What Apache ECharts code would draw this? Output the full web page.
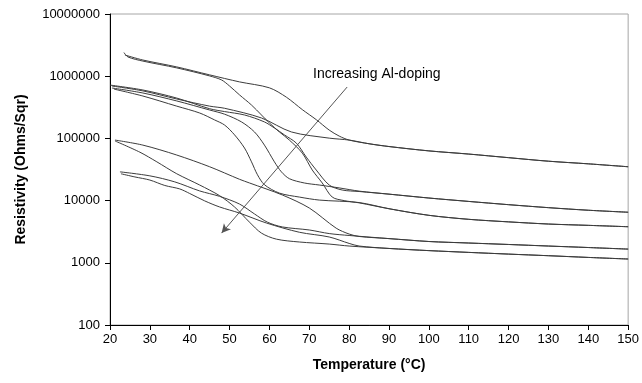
<!DOCTYPE html>
<html>
<head>
<meta charset="utf-8">
<script src="https://cdn.jsdelivr.net/npm/echarts@6/dist/echarts.min.js"></script>
<style>
  html, body { margin: 0; padding: 0; background: #fff; }
  #chart { width: 642px; height: 383px; }
</style>
</head>
<body>
<div id="chart"></div>
<script>
// Resistivity vs temperature, five films (heating + cooling branch each)
// points are [temperature °C, resistivity Ohms/Sqr]

const xTicks = [20, 30, 40, 50, 60, 70, 80, 90, 100, 110, 120, 130, 140, 150];
const yTicks = [100, 1000, 10000, 100000, 1000000, 10000000];

// shared high-temperature tails
const tail1 = [[85, 8.2e4], [90, 7.4e4], [100, 6.3e4], [110, 5.6e4], [120, 4.9e4], [130, 4.3e4], [140, 3.9e4], [150, 3.5e4]];
const tail2 = [[90, 1.27e4], [100, 1.1e4], [110, 9.7e3], [120, 8.6e3], [130, 7.7e3], [140, 7.0e3], [150, 6.5e3]];
const tail3 = [[90, 7.4e3], [100, 5.8e3], [110, 5.0e3], [120, 4.55e3], [130, 4.2e3], [140, 4.0e3], [150, 3.8e3]];
const tail4 = [[90, 2.45e3], [100, 2.2e3], [110, 2.08e3], [120, 1.97e3], [130, 1.86e3], [140, 1.76e3], [150, 1.66e3]];
const tail5 = [[90, 1.7e3], [100, 1.57e3], [110, 1.47e3], [120, 1.38e3], [130, 1.3e3], [140, 1.22e3], [150, 1.15e3]];

// least doped film
const film1Up = [[23.75, 2.19e6], [28.25, 1.82e6], [36.75, 1.41e6], [45, 1.05e6], [52.5, 8.1e5], [60, 6.5e5],
  [64.25, 4.6e5], [68.25, 2.9e5], [71.75, 2.0e5], [75, 1.36e5], [77.5, 1.09e5], [80, 9.4e4]];
const film1Down = [[23.5, 2.4e6], [24.5, 2.04e6], [28.25, 1.75e6], [36.75, 1.36e6], [45, 1.01e6], [48, 8.7e5],
  [50, 6.95e5], [52.5, 5.0e5], [55.5, 3.44e5], [58, 2.38e5], [60, 1.77e5], [62.5, 1.27e5], [65, 9.4e4],
  [68.25, 5.8e4], [70.75, 3.1e4], [73.25, 1.92e4], [75.75, 1.14e4], [78.75, 1.0e4], [82.5, 9.2e3]];

// films starting near 7e5
const filmC = [[20.5, 6.95e5], [28.25, 5.8e5], [36.75, 4.3e5], [45, 3.3e5], [48.75, 3.05e5], [58, 2.13e5],
  [65.5, 1.27e5], [75, 1.01e5], [80, 9.4e4]];
const filmD = [[20, 7.2e5], [28.25, 6.0e5], [36.75, 4.45e5], [45, 3.0e5], [48.75, 2.7e5], [53.75, 2.38e5],
  [58.75, 1.84e5], [61.25, 1.47e5], [63.75, 1.14e5], [66.75, 8.4e4], [69.25, 5.0e4], [71.75, 3.1e4],
  [75, 1.78e4], [78.25, 1.48e4], [82.5, 1.4e4]];
const filmE = [[20.5, 6.46e5], [28.25, 5.37e5], [36.75, 4.0e5], [45, 2.86e5], [48.75, 2.45e5], [53, 1.84e5],
  [56.25, 1.27e5], [58.75, 7.8e4], [61.25, 4.2e4], [63, 2.9e4], [65, 2.25e4], [68.75, 1.92e4],
  [72.5, 1.78e4], [77.5, 1.6e4], [82.5, 1.42e4]];
const filmF = [[21, 6.2e5], [28.25, 4.8e5], [36.75, 3.3e5], [42.5, 2.56e5], [46.25, 1.98e5], [48.75, 1.64e5],
  [51.25, 1.14e5], [53.75, 7.0e4], [55.5, 4.2e4], [57, 2.6e4], [58.75, 1.8e4], [62.5, 1.32e4],
  [67.5, 1.14e4], [72.5, 1.02e4], [82.5, 9.3e3]];

// films starting near 9e4
const filmU1 = [[21.25, 9.4e4], [28.25, 7.8e4], [36.75, 5.4e4], [45, 3.5e4], [52.5, 2.2e4], [55, 1.92e4],
  [63.25, 1.23e4], [70, 7.6e3], [76.75, 3.6e3], [80, 2.9e3], [82.5, 2.65e3]];
const filmU2 = [[21.25, 9.1e4], [27.5, 6.0e4], [31.75, 4.2e4], [36.75, 2.7e4], [42.5, 1.78e4], [47.5, 1.2e4],
  [51.25, 7.9e3], [55, 4.5e3], [58, 3.0e3], [61.75, 2.4e3], [67.5, 2.16e3], [75, 2.0e3], [80, 1.86e3]];

// most doped film, starting near 2.8e4
const filmW1 = [[22.5, 2.9e4], [30, 2.5e4], [36.25, 2.0e4], [42.5, 1.43e4], [47.5, 1.17e4], [52.5, 8.8e3],
  [56.25, 6.1e3], [59.5, 4.5e3], [63.25, 3.77e3], [70, 3.37e3], [75, 2.95e3], [80, 2.75e3]];
const filmW2 = [[22.75, 2.7e4], [26.25, 2.4e4], [30, 2.14e4], [33.75, 1.75e4], [37.5, 1.54e4], [40, 1.3e4],
  [43.75, 9.9e3], [47.5, 7.9e3], [52.5, 6.3e3], [59.25, 4.36e3], [67.5, 3.1e3], [75, 2.6e3], [80, 2.05e3],
  [82.5, 1.86e3]];

const curves = [
  film1Up.concat(tail1), filmC.concat(tail1),
  film1Down.concat(tail3), filmF.concat(tail3),
  filmD.concat(tail2), filmE.concat(tail2),
  filmU1.concat(tail4), filmW1.concat(tail4),
  filmU2.concat(tail5), filmW2.concat(tail5)
];

// arrow "Increasing Al-doping"
const arrowFrom = [79.5, 6.7e5];
const arrowTo = [48, 3.0e3];
const noteText = 'Increasing Al-doping';

const font = '"Liberation Sans", Arial, sans-serif';
const chart = echarts.init(document.getElementById('chart'), null, { renderer: 'canvas' });

const series = curves.map((pts, i) => {
  const s = {
    type: 'line',
    data: pts,
    showSymbol: false,
    smooth: 0.3,
    lineStyle: { color: '#3c3c3c', width: 1 },
    z: 3
  };
  if (i === 0) {
    s.markLine = {
      silent: true,
      symbol: ['none', 'arrow'],
      symbolSize: [7, 9],
      label: { show: false },
      lineStyle: { color: '#555', width: 1, type: 'solid' },
      data: [[{ coord: arrowFrom }, { coord: arrowTo }]]
    };
  }
  return s;
});

chart.setOption({
  animation: false,
  backgroundColor: '#fff',
  grid: {
    left: 110, right: 12, top: 14, bottom: 58,
    show: true, borderColor: '#a6a6a6', borderWidth: 1, backgroundColor: '#fff'
  },
  xAxis: {
    type: 'value',
    min: 20, max: 150, interval: 10,
    name: 'Temperature (°C)',
    nameLocation: 'middle',
    nameGap: 33,
    nameTextStyle: { fontFamily: font, fontSize: 14, fontWeight: 'bold', color: '#000' },
    axisLine: { show: true, lineStyle: { color: '#000', width: 1 } },
    axisTick: { show: true, length: 5, lineStyle: { color: '#000' } },
    axisLabel: { fontFamily: font, fontSize: 13, color: '#000', margin: 8,
      formatter: v => xTicks.includes(v) ? String(v) : '' },
    splitLine: { show: false }
  },
  yAxis: {
    type: 'log',
    logBase: 10,
    min: yTicks[0], max: yTicks[yTicks.length - 1],
    name: 'Resistivity (Ohms/Sqr)',
    nameLocation: 'middle',
    nameGap: 82,
    nameTextStyle: { fontFamily: font, fontSize: 14, fontWeight: 'bold', color: '#000' },
    axisLine: { show: true, lineStyle: { color: '#000', width: 1 } },
    axisTick: { show: true, length: 5, lineStyle: { color: '#000' } },
    axisLabel: { fontFamily: font, fontSize: 13, color: '#000', margin: 10,
      formatter: v => String(Math.round(v)) },
    splitLine: { show: false }
  },
  graphic: [{
    type: 'text',
    left: 313, top: 67,
    style: { text: noteText, font: '14px ' + font, fill: '#000' }
  }],
  series: series
});
</script>
</body>
</html>
